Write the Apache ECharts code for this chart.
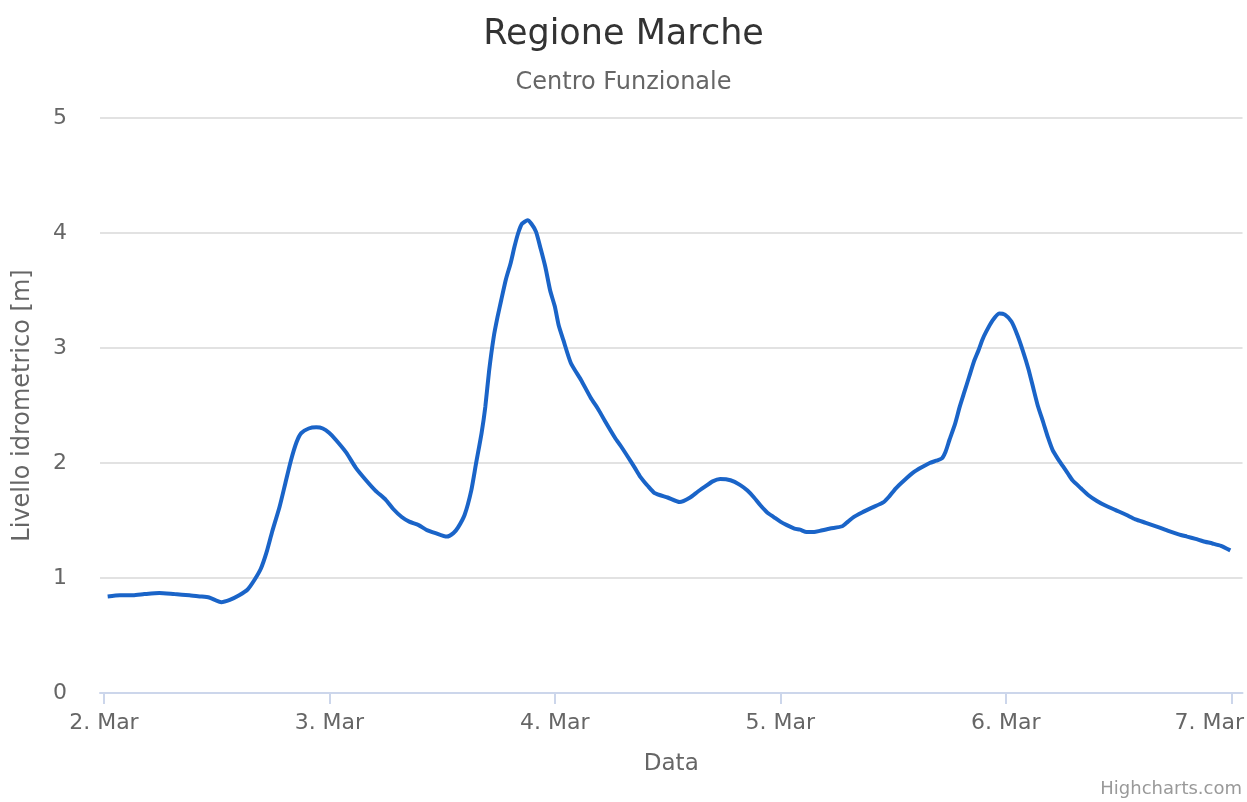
<!DOCTYPE html>
<html>
<head>
  <meta charset="utf-8">
  <title>Regione Marche</title>
  <script src="https://cdn.jsdelivr.net/npm/echarts@6/dist/echarts.min.js"></script>
  <style>
    html, body { margin: 0; padding: 0; background: #fff; }
    #main { width: 1247px; height: 802px; }
  </style>
</head>
<body>
  <div id="main"></div>
  <script type="text/javascript">
    // ore dalla mezzanotte del 2 marzo
    var hours = [0.4, 1.7, 3.1, 4.3, 5.9, 7.5, 9.1, 10.2, 11.2, 12.5, 13.4, 14.4, 15.3, 16.0, 16.7, 17.3, 17.9, 18.7, 19.3, 19.9,
      20.5, 21.0, 21.8, 22.6, 23.3, 24.0, 24.7, 25.8, 26.8, 27.9, 28.9, 30.0, 30.8, 31.7, 32.5, 33.5, 34.3, 35.3, 36.5, 37.2,
      37.7, 38.4, 39.1, 39.6, 40.2, 40.6, 41.0, 41.5, 41.9, 42.3, 42.8, 43.3, 43.7, 44.1, 44.5, 45.1, 45.5, 46.0, 46.5, 47.0,
      47.5, 48.0, 48.4, 48.9, 49.7, 50.8, 51.8, 52.6, 53.3, 54.4, 55.0, 55.8, 56.5, 57.1, 57.9, 58.6, 60.0, 61.3, 62.4, 63.2,
      63.9, 64.8, 65.6, 66.7, 67.7, 68.5, 69.2, 69.9, 70.6, 71.3, 72.0, 72.7, 73.5, 74.1, 74.8, 75.6, 76.2, 77.3, 78.6, 79.2,
      79.8, 80.7, 81.7, 83.0, 83.6, 84.3, 85.2, 86.2, 87.0, 87.9, 88.6, 89.2, 89.6, 90.0, 90.6, 91.1, 91.6, 92.1, 92.6, 93.1,
      93.5, 93.9, 94.6, 95.3, 95.9, 96.6, 97.2, 97.8, 98.4, 98.9, 99.4, 100.0, 100.5, 101.0, 101.6, 102.1, 102.6, 103.1, 104.0, 104.8,
      105.7, 106.6, 107.7, 108.8, 109.8, 110.9, 112.3, 113.3, 114.4, 115.3, 116.2, 117.0, 118.0, 118.9, 119.9];
    // livello idrometrico [m]
    var livello = [0.84, 0.85, 0.85, 0.86, 0.87, 0.86, 0.85, 0.84, 0.83, 0.79, 0.81, 0.85, 0.90, 0.98, 1.08, 1.22, 1.40, 1.62, 1.82, 2.02,
      2.18, 2.26, 2.30, 2.31, 2.30, 2.26, 2.20, 2.09, 1.96, 1.85, 1.76, 1.68, 1.60, 1.53, 1.49, 1.46, 1.42, 1.39, 1.36, 1.39,
      1.44, 1.55, 1.76, 1.99, 2.26, 2.49, 2.80, 3.10, 3.27, 3.42, 3.60, 3.74, 3.88, 4.00, 4.08, 4.11, 4.08, 4.01, 3.86, 3.70,
      3.50, 3.36, 3.20, 3.07, 2.87, 2.72, 2.57, 2.47, 2.37, 2.22, 2.15, 2.05, 1.96, 1.88, 1.80, 1.74, 1.70, 1.66, 1.70, 1.75,
      1.79, 1.84, 1.86, 1.85, 1.81, 1.76, 1.70, 1.63, 1.57, 1.53, 1.49, 1.46, 1.43, 1.42, 1.40, 1.40, 1.41, 1.43, 1.45, 1.49,
      1.53, 1.57, 1.61, 1.66, 1.71, 1.78, 1.85, 1.92, 1.96, 2.00, 2.02, 2.04, 2.10, 2.20, 2.34, 2.49, 2.62, 2.75, 2.88, 2.98,
      3.07, 3.14, 3.24, 3.30, 3.29, 3.23, 3.12, 2.98, 2.82, 2.66, 2.50, 2.35, 2.22, 2.11, 2.03, 1.97, 1.91, 1.85, 1.78, 1.72,
      1.67, 1.63, 1.59, 1.55, 1.51, 1.48, 1.44, 1.41, 1.38, 1.36, 1.34, 1.32, 1.30, 1.28, 1.24];
    var yTicks = [0, 1, 2, 3, 4, 5];

    var HOUR = 3600000;
    var DAY = 24 * HOUR;
    var start = new Date(2020, 2, 2).getTime();

    var dati = hours.map(function (h, i) { return [start + h * HOUR, livello[i]]; });

    var myChart = echarts.init(document.getElementById('main'));
    var font = 'DejaVu Sans';
    var option = {
      animation: false,
      backgroundColor: '#ffffff',
      title: {
        text: 'Regione Marche',
        subtext: 'Centro Funzionale',
        left: 'center',
        top: 12,
        itemGap: 19,
        textStyle: { fontFamily: font, fontSize: 35, fontWeight: 'normal', color: '#333333' },
        subtextStyle: { fontFamily: font, fontSize: 24, color: '#666666' }
      },
      grid: { left: 100, right: 2, top: 118, bottom: 109, containLabel: false },
      xAxis: {
        type: 'time',
        min: start - 25 * 60000,
        max: start + 121.2 * HOUR,
        minInterval: DAY,
        maxInterval: DAY,
        name: 'Data',
        nameLocation: 'middle',
        nameGap: 60,
        nameTextStyle: { fontFamily: font, fontSize: 23, color: '#666666' },
        axisLine: { lineStyle: { color: '#ccd6eb', width: 2 } },
        axisTick: { show: true, length: 11, lineStyle: { color: '#ccd6eb', width: 2 } },
        splitLine: { show: false },
        axisLabel: {
          fontFamily: font, fontSize: 22, color: '#666666', margin: 19,
          formatter: function (v) {
            var d = new Date(v).getDate();
            return d === 7 ? '{last|7. Mar}' : d + '. Mar';
          },
          rich: { last: { fontFamily: font, fontSize: 22, color: '#666666', padding: [0, 44, 0, 0] } }
        }
      },
      yAxis: {
        type: 'value',
        min: yTicks[0],
        max: yTicks[yTicks.length - 1],
        interval: 1,
        name: 'Livello idrometrico [m]',
        nameLocation: 'middle',
        nameGap: 65,
        nameTextStyle: { fontFamily: font, fontSize: 24, color: '#666666' },
        axisLine: { show: false },
        axisTick: { show: false },
        axisLabel: { fontFamily: font, fontSize: 22, color: '#666666', margin: 33 },
        splitLine: { lineStyle: { color: '#e2e2e2', width: 2 } }
      },
      series: [{
        name: 'Livello',
        type: 'line',
        data: dati,
        showSymbol: false,
        smooth: 0.2,
        lineStyle: { color: '#1a64c8', width: 4 },
        itemStyle: { color: '#1a64c8' }
      }],
      graphic: [{
        type: 'text',
        right: 5,
        bottom: 4,
        style: { text: 'Highcharts.com', fontFamily: font, fontSize: 18, fill: '#999999' }
      }]
    };
    myChart.setOption(option);
  </script>
</body>
</html>
